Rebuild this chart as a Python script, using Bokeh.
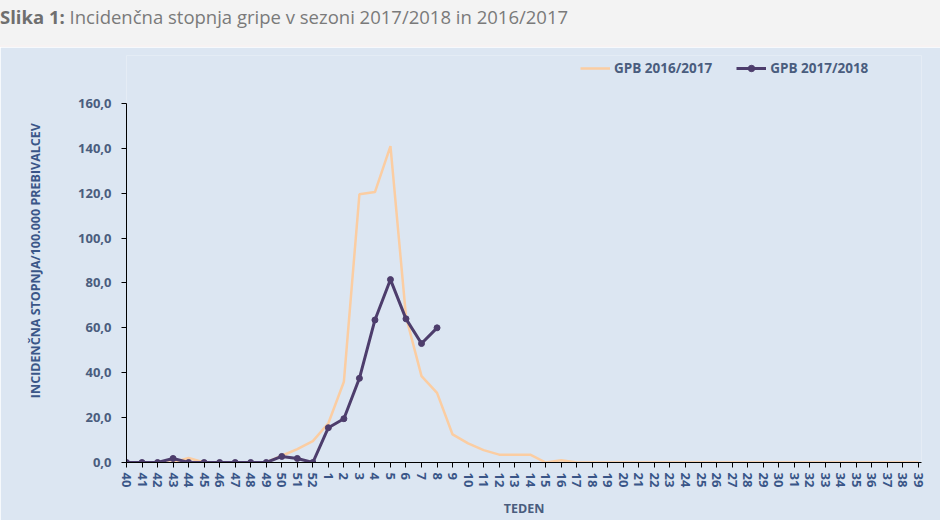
from bokeh.plotting import figure
from bokeh.models import Div, Legend, LegendItem, FixedTicker, Range1d
from bokeh.layouts import column
from bokeh.embed import file_html
from bokeh.resources import INLINE

weeks = ["40", "41", "42", "43", "44", "45", "46", "47", "48", "49", "50", "51", "52",
         "1", "2", "3", "4", "5", "6", "7", "8", "9", "10", "11", "12", "13", "14", "15",
         "16", "17", "18", "19", "20", "21", "22", "23", "24", "25", "26", "27", "28", "29",
         "30", "31", "32", "33", "34", "35", "36", "37", "38", "39"]

gpb_2016_2017 = [0, 0, 0, 0, 2, 0, 0, 0, 0, 0, 3, 6, 9.5,
                 17.5, 36, 119.5, 120.5, 141, 65, 38.5, 31, 12.5, 8.5, 5.5, 3.5, 3.5, 3.5, 0,
                 1, 0, 0, 0, 0, 0, 0, 0, 0, 0, 0, 0, 0, 0,
                 0, 0, 0, 0, 0, 0, 0, 0, 0, 0]

gpb_2017_2018 = [0, 0, 0, 1.8, 0, 0, 0, 0, 0, 0, 2.7, 1.8, 0,
                 15.5, 19.5, 37.5, 63.5, 81.5, 64, 53, 60]

y_ticks = [0, 20, 40, 60, 80, 100, 120, 140, 160]

BLUE_BG = "#dce6f2"
TXT = "#4a5d7e"
AXTXT = "#3a5688"

title_html = (
    '<div style="font-family:\'Open Sans\';font-size:18.5px;color:#7a7a7a;'
    'padding-top:6px;line-height:22px;white-space:nowrap">'
    '<span style="font-weight:700;color:#6f6f6f">Slika 1:</span> '
    'Incidenčna stopnja gripe v sezoni 2017/2018 in 2016/2017</div>'
)
div = Div(text=title_html, width=940, height=47, margin=0,
          styles={"background-color": "#f3f3f3", "border-bottom": "2px solid #f7f2f2"})

x_idx = list(range(len(weeks)))

p = figure(width=940, height=473, output_backend="svg", toolbar_location=None,
           x_range=Range1d(0, 51.2), y_range=Range1d(0, 160 + 48 / 2.25),
           min_border_left=126, min_border_right=19, min_border_top=8, min_border_bottom=57,
           margin=0)
p.background_fill_color = BLUE_BG
p.border_fill_color = BLUE_BG
p.outline_line_color = None
p.xgrid.grid_line_color = None
p.ygrid.grid_line_color = None

r_or = p.line(x_idx, gpb_2016_2017, line_color="#fbcda2", line_width=2.5)
r_pl = p.line(x_idx[:len(gpb_2017_2018)], gpb_2017_2018, line_color="#4d3d6c", line_width=3)
r_pm = p.scatter(x_idx[:len(gpb_2017_2018)], gpb_2017_2018, size=6, marker="circle",
                 fill_color="#4d3d6c", line_color="#4d3d6c")

# axes
p.xaxis.ticker = FixedTicker(ticks=x_idx)
p.xaxis.major_label_overrides = {i: w for i, w in enumerate(weeks)}
p.xaxis.major_label_orientation = "vertical"
p.xaxis.major_label_text_font = "Open Sans"
p.xaxis.major_label_text_font_style = "bold"
p.xaxis.major_label_text_font_size = "13px"
p.xaxis.major_label_text_color = AXTXT
p.xaxis.major_label_standoff = 5
p.xaxis.major_tick_out = 5
p.xaxis.major_tick_in = 0
p.xaxis.minor_tick_line_color = None
p.xaxis.axis_line_color = "black"
p.xaxis.major_tick_line_color = "black"
p.xaxis.axis_label = "TEDEN"
p.xaxis.axis_label_text_font = "Open Sans"
p.xaxis.axis_label_text_font_style = "bold"
p.xaxis.axis_label_text_font_size = "12.5px"
p.xaxis.axis_label_text_color = TXT
p.xaxis.axis_label_standoff = 10

p.yaxis.ticker = FixedTicker(ticks=y_ticks)
p.yaxis.bounds = (0, 160)
p.yaxis.major_label_overrides = {t: f"{t},0" for t in y_ticks}
p.yaxis.major_label_text_font = "Open Sans"
p.yaxis.major_label_text_font_style = "bold"
p.yaxis.major_label_text_font_size = "13px"
p.yaxis.major_label_text_color = TXT
p.yaxis.major_label_standoff = 10
p.yaxis.major_tick_out = 5
p.yaxis.major_tick_in = 0
p.yaxis.minor_tick_line_color = None
p.yaxis.axis_line_color = "black"
p.yaxis.major_tick_line_color = "black"
p.yaxis.axis_label = "INCIDENČNA STOPNJA/100.000  PREBIVALCEV"
p.yaxis.axis_label_text_font = "Open Sans"
p.yaxis.axis_label_text_font_style = "bold"
p.yaxis.axis_label_text_font_size = "12.5px"
p.yaxis.axis_label_text_color = AXTXT
p.yaxis.axis_label_standoff = 31

legend = Legend(items=[LegendItem(label="GPB 2016/2017", renderers=[r_or]),
                       LegendItem(label="GPB 2017/2018", renderers=[r_pl, r_pm])],
                orientation="horizontal", location=(454, 385),
                padding=0, margin=0, spacing=24, glyph_width=30, glyph_height=16,
                label_height=16, label_standoff=4,
                label_text_font="Open Sans", label_text_font_style="bold",
                label_text_font_size="13.5px", label_text_color=TXT,
                background_fill_alpha=0, border_line_color=None)
p.add_layout(legend)

layout = column(div, p, spacing=0)
open("out.html", "w").write(file_html(layout, INLINE))
